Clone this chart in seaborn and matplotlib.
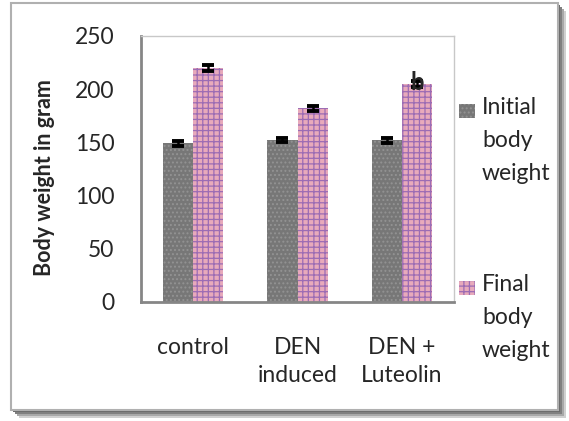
import numpy as np
import pandas as pd
import matplotlib
matplotlib.use("Agg")
import matplotlib.pyplot as plt
from matplotlib.patches import Rectangle
import seaborn as sns

# data
groups = ["control", "DEN\ninduced", "DEN +\nLuteolin"]
series = ["Initial\nbody\nweight", "Final\nbody\nweight"]
initial_weight = [149, 152, 152]
final_weight = [220, 182, 205]
initial_err = [2, 2, 2.5]
final_err = [2.5, 2.5, 2.5]
yticks = [0, 50, 100, 150, 200, 250]

df = pd.DataFrame({
    "group": groups * 2,
    "series": [series[0]] * 3 + [series[1]] * 3,
    "weight": initial_weight + final_weight,
})

sns.set_style("white")
plt.rcParams["font.family"] = ["Lato", "DejaVu Sans"]
plt.rcParams["hatch.linewidth"] = 0.9

W, H = 569, 421
fig = plt.figure(figsize=(W / 100, H / 100), dpi=100)


def px_rect(x0, y0, x1, y1, **kw):
    # rectangle given in pixel coords from the top-left corner
    return Rectangle((x0 / W, 1 - y1 / H), (x1 - x0) / W, (y1 - y0) / H,
                     transform=fig.transFigure, **kw)


# frame with soft shadow round the whole chart
for off, col in [(8, "#d0d0d0"), (6, "#a8a8a8"), (4, "#808080"), (2, "#6a6a6a")]:
    fig.patches.append(px_rect(11 + off, 3 + off, 558 + off, 410 + off,
                               facecolor=col, edgecolor="none", zorder=-4))
fig.patches.append(px_rect(11, 3, 558, 410, facecolor="white",
                           edgecolor="#b0b0b0", lw=1.5, zorder=-3))

ax = fig.add_axes([141 / W, 1 - 302 / H, 313 / W, 266 / H])
sns.barplot(data=df, x="group", y="weight", hue="series", hue_order=series,
            order=groups, width=0.58, errorbar=None, legend=False, ax=ax,
            palette=["#7a7a7a", "#e0a6b8"], saturation=1)

fills = [("#777777", "#939393", "...."), ("#e8aabb", "#9c6cb4", "+++")]
errs = [initial_err, final_err]
for cont, (fc, hc, ht), err in zip(ax.containers, fills, errs):
    xs, ys = [], []
    for bar in cont:
        bar.set_facecolor(fc)
        bar.set_edgecolor(hc)
        bar.set_hatch(ht)
        bar.set_linewidth(0)
        xs.append(bar.get_x() + bar.get_width() / 2)
        ys.append(bar.get_height())
    ax.errorbar(xs, ys, yerr=err, fmt="none", ecolor="black", elinewidth=1.8,
                capsize=4, capthick=2.8, zorder=5)

# letter over the last bar
last = ax.containers[1][2]
ax.text(last.get_x() + last.get_width() / 2, last.get_height() - 5.5, "b",
        ha="center", va="baseline", fontsize=17, fontweight="bold", zorder=7)

ax.set_ylim(0, 250)
ax.set_xlim(-0.5, 2.5)
ax.set_yticks(yticks)
ax.set_yticklabels([str(v) for v in yticks], fontsize=16.5)
ax.set_xticks([-0.5, 0.5, 1.5, 2.5])
ax.set_xticklabels([])
ax.set_xticks([0, 1, 2], minor=True)
ax.set_xticklabels(groups, minor=True, fontsize=16.5, linespacing=1.45)
ax.tick_params(axis="x", which="minor", length=0, pad=25)
ax.tick_params(axis="x", which="major", length=6, width=1.5, color="#868686")
ax.tick_params(axis="y", length=6, width=1.5, color="#868686", pad=13)
ax.set_xlabel("")
ax.set_ylabel("")
fig.text(45 / W, 1 - 178 / H, "Body weight in gram", rotation=90, ha="center",
         va="center", fontsize=15.5, fontweight="bold")

for side in ["left", "bottom"]:
    ax.spines[side].set_color("#868686")
    ax.spines[side].set_linewidth(2)
for side in ["top", "right"]:
    ax.spines[side].set_visible(True)
    ax.spines[side].set_color("#c8c8c8")
    ax.spines[side].set_linewidth(1)

# legend on the right, handle beside the first line
leg_top = [97, 274]
for (fc, hc, ht), label, y in zip(fills, series, leg_top):
    fig.patches.append(px_rect(459, y + 7, 475, y + 21, facecolor=fc,
                               edgecolor=hc, hatch=ht, lw=0))
    fig.text(482 / W, 1 - y / H, label, ha="left", va="top", fontsize=16.5,
             linespacing=1.7)

fig.savefig("out.png", dpi=100)
